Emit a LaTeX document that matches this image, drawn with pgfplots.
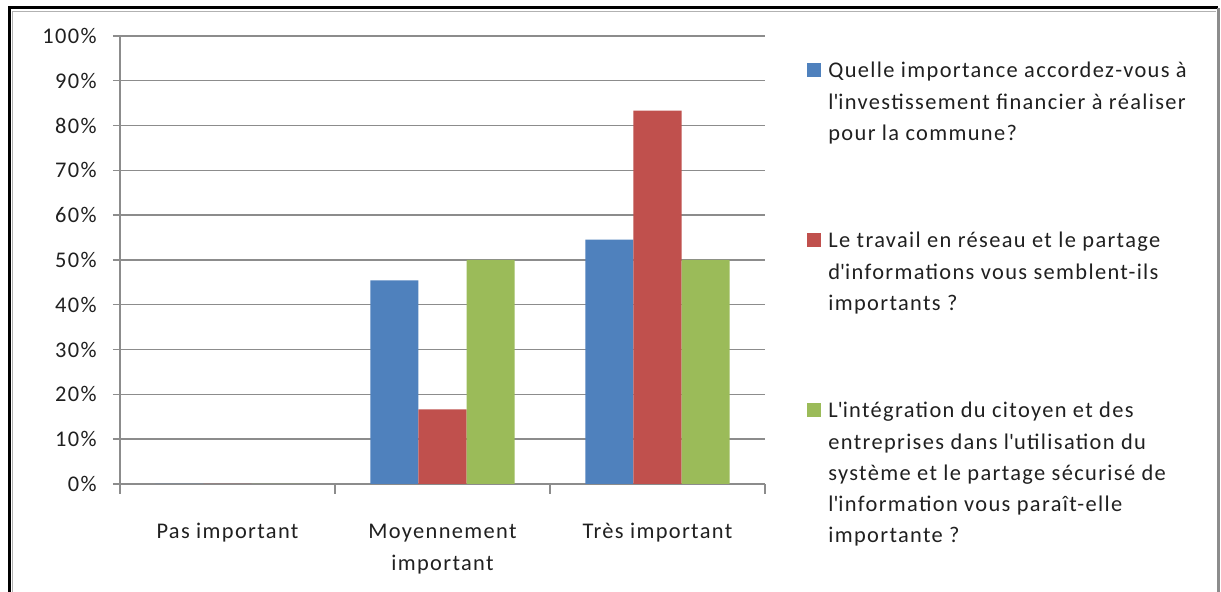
\documentclass[border=0pt]{standalone}
\usepackage{pgfplots}
\pgfplotsset{compat=1.18}
\usepackage{fontspec}
\setmainfont{Carlito}[LetterSpace=6]

\definecolor{cblue}{HTML}{4F81BD}
\definecolor{cred}{HTML}{C0504D}
\definecolor{cgreen}{HTML}{9BBB59}
\definecolor{gridc}{HTML}{8C8C8C}
\definecolor{txt}{HTML}{202020}

\begin{document}
\begin{tikzpicture}[x=0.5pt,y=0.5pt,font=\fontsize{11.2}{15.6}\selectfont,text=txt]
\useasboundingbox (0,0) rectangle (1221,592);
\fill[white] (0,0) rectangle (1221,592);
% frame
\draw[gray!60,line width=0.6pt] (12.5,0) -- (12.5,580.5) -- (1216,580.5);
\draw[black,line width=1.5pt] (9,0) -- (9,584) -- (1218,584);
\draw[gridc,line width=1.5pt] (1218,0) -- (1218,584);

\begin{axis}[
  at={(60pt,54pt)},anchor=south west,
  scale only axis,width=322.5pt,height=224pt,
  xmin=-0.5,xmax=2.5,ymin=0,ymax=100,
  axis x line*=bottom,axis y line*=left,
  axis line style={-,draw=gridc,line width=0.7pt},
  ytick={0,10,...,100},
  yticklabel={\pgfmathprintnumber{\tick}\%},
  /pgf/number format/assume math mode=true,
  ymajorgrids,grid style={draw=gridc,line width=0.7pt},
  tick align=outside,
  major tick length=3.5pt,
  tick style={draw=gridc,line width=0.7pt},
  yticklabel style={anchor=east,inner sep=0pt,xshift=-8pt},
  xtick={0,1,2},
  xticklabels={Pas important,{\begin{tabular}[t]{@{}c@{}}Moyennement\\important\end{tabular}},Très important},
  major x tick style={draw=none},
  xticklabel style={anchor=base,inner sep=0pt,yshift=-24pt},
  extra x ticks={-0.5,0.5,1.5,2.5},
  extra x tick labels={},
  extra x tick style={major tick length=5pt,major x tick style={draw=gridc,line width=0.7pt}},
  ybar,bar width=0.2233,
  every axis plot/.append style={draw=none},
]
\addplot[fill=cblue,bar shift=-0.2233] coordinates {(0,0) (1,45.45) (2,54.55)};
\addplot[fill=cred,bar shift=0] coordinates {(0,0) (1,16.67) (2,83.33)};
\addplot[fill=cgreen,bar shift=0.2233] coordinates {(0,0) (1,50) (2,50)};
\end{axis}

% legend (node base = last line)
\fill[cblue] (807,515) rectangle (821,529);
\node[anchor=base west,inner sep=0pt,align=left] at (828,451.6)
  {Quelle importance accordez-vous à\\l\textquotesingle investissement financier à réaliser\\pour la commune?};
\fill[cred] (807,345) rectangle (821,359);
\node[anchor=base west,inner sep=0pt,align=left] at (828,281.6)
  {Le travail en réseau et le partage\\d\textquotesingle informations vous semblent-ils\\importants ?};
\fill[cgreen] (807,175) rectangle (821,189);
\node[anchor=base west,inner sep=0pt,align=left] at (828,49.2)
  {L\textquotesingle intégration du citoyen et des\\entreprises dans l\textquotesingle utilisation du\\système et le partage sécurisé de\\l\textquotesingle information vous paraît-elle\\importante ?};
\end{tikzpicture}
\end{document}
